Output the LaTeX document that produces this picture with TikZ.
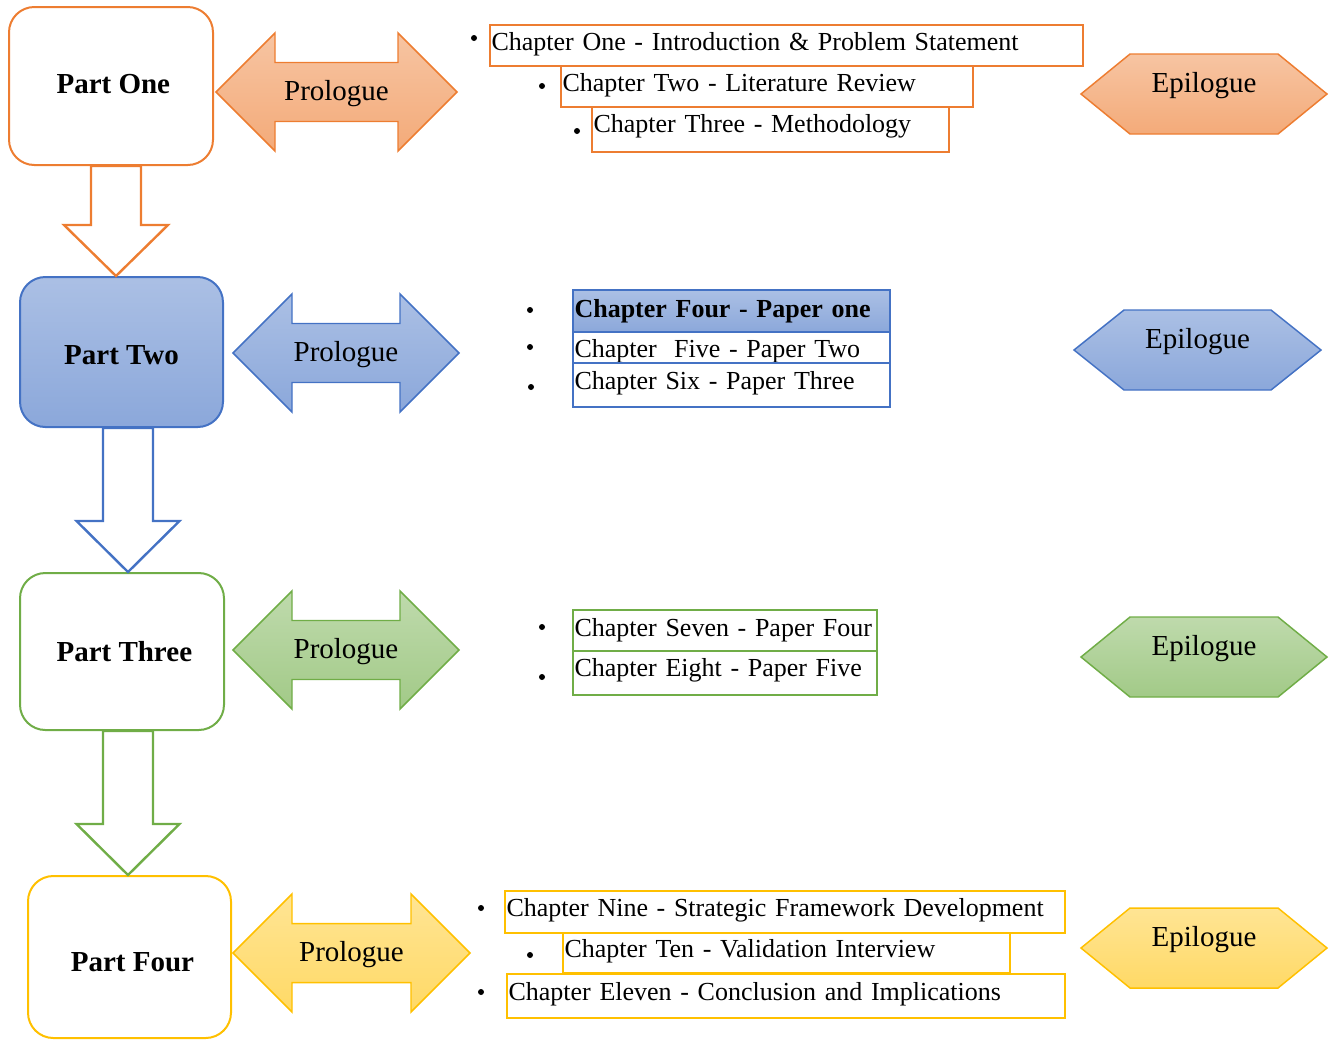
\documentclass[tikz,border=0pt]{standalone}
\usepackage{fontspec}
\setmainfont{Liberation Serif}
\usetikzlibrary{calc}

\definecolor{orangeC}{HTML}{ED7D31}
\definecolor{blueC}{HTML}{4472C4}
\definecolor{greenC}{HTML}{70AD47}
\definecolor{goldC}{HTML}{FFC000}

\newcommand\chapfont{\fontsize{19.5pt}{22pt}\selectfont}
\newcommand\labfont{\fontsize{21.75pt}{24pt}\selectfont}
% shift text vertically while keeping its natural height and depth
\newcommand\lift[2]{\raisebox{#1}[\height][\depth]{#2}}

\tikzset{
  shadeO/.style={top color=orangeC!45!white, bottom color=orangeC!65!white},
  shadeB/.style={top color=blueC!45!white, bottom color=blueC!62!white},
  shadeG/.style={top color=greenC!45!white, bottom color=greenC!65!white},
  shadeY/.style={top color=goldC!42!white, bottom color=goldC!60!white},
  part/.style={draw=#1, line width=1.5pt, rounded corners=19pt, fill=white,
    font=\bfseries\labfont, inner sep=0pt},
  chap/.style={draw=#1, line width=1.8pt, anchor=north west, inner xsep=1pt,
    inner ysep=0pt, align=left, font=\chapfont, fill=white},
  bulletdot/.style={circle, fill=black, inner sep=0pt, minimum size=4.5pt},
  blockarrow/.style={draw=#1, line width=1.8pt, fill=white, line join=miter},
  shapeline/.style={draw=#1, line width=1.1pt, line join=miter},
  lab/.style={font=\labfont, inner sep=0pt}
}

% double-headed block arrow with a label: name, left x, centre y, right x, colour, shading
\newcommand\prologuearrow[6]{%
  \draw[shapeline=#5, #6]
    (#2,#3) -- ({#2+59},{#3-59}) -- ({#2+59},{#3-29.5}) -- ({#4-59},{#3-29.5})
    -- ({#4-59},{#3-59}) -- (#4,#3) -- ({#4-59},{#3+59}) -- ({#4-59},{#3+29.5})
    -- ({#2+59},{#3+29.5}) -- ({#2+59},{#3+59}) -- cycle;
  \node[lab] (#1) at ({(#2+#4)/2},{#3+2}) {Prologue};}

% hexagon with a label: name, left x, centre y, right x, inset, colour, shading
\newcommand\epiloguehex[7]{%
  \draw[shapeline=#6, #7]
    (#2,#3) -- ({#2+#5},{#3-40}) -- ({#4-#5},{#3-40}) -- (#4,#3)
    -- ({#4-#5},{#3+40}) -- ({#2+#5},{#3+40}) -- cycle;
  \node[lab] (#1) at ({(#2+#4)/2},{#3-8}) {Epilogue};}

% hollow down arrow from one part to the next along the vertical through (#3)
\newcommand\partarrow[6]{%
  \draw[blockarrow=#4]
    ($(#1.south -| #3)+(-25,0)$) -- ($(#2.north -| #3)+(-25,{-#5})$)
    -- ($(#2.north -| #3)+({-#6},{-#5})$) -- (#2.north -| #3)
    -- ($(#2.north -| #3)+(#6,{-#5})$) -- ($(#2.north -| #3)+(25,{-#5})$)
    -- ($(#1.south -| #3)+(25,0)$) -- cycle;}

\begin{document}
\begin{tikzpicture}[x=0.75pt, y=-0.75pt]
\useasboundingbox (0,0) rectangle (1331,1040);

% parts
\node[part=orangeC, minimum width=153pt, minimum height=118.5pt] (p1) at (111,86) {\hspace*{3.5pt}\lift{1.5pt}{Part One}};
\node[part=blueC, shadeB, minimum width=152.25pt, minimum height=112.5pt] (p2) at (121.5,352) {\lift{-2.25pt}{Part Two}};
\node[part=greenC, minimum width=153pt, minimum height=117.75pt] (p3) at (122,651.5) {\hspace*{3.5pt}Part Three};
\node[part=goldC, minimum width=152.25pt, minimum height=121.5pt] (p4) at (129.5,957) {\hspace*{4.5pt}\lift{-3.75pt}{Part Four}};

% arrows between the parts
\coordinate (ax1) at (116,0);
\coordinate (ax2) at (128,0);
\partarrow{p1}{p2}{ax1}{orangeC}{51}{52}
\partarrow{p2}{p3}{ax2}{blueC}{51}{51.5}
\partarrow{p3}{p4}{ax2}{greenC}{51}{51.5}

% prologues
\prologuearrow{pr1}{216}{92}{457}{orangeC}{shadeO}
\prologuearrow{pr2}{233}{353}{459}{blueC}{shadeB}
\prologuearrow{pr3}{233}{650}{459}{greenC}{shadeG}
\prologuearrow{pr4}{233}{953}{470}{goldC}{shadeY}

% epilogues
\epiloguehex{ep1}{1081}{94}{1327}{49}{orangeC}{shadeO}
\epiloguehex{ep2}{1074}{350}{1321}{50}{blueC}{shadeB}
\epiloguehex{ep3}{1081}{657}{1327}{49}{greenC}{shadeG}
\epiloguehex{ep4}{1081}{948}{1327}{49}{goldC}{shadeY}

% chapters of part one
\node[chap=orangeC, text width=442.75pt, minimum height=30.75pt] (c1) at (489,24) {\lift{0.75pt}{Chapter One - Introduction \& Problem Statement}};
\node[chap=orangeC, text width=307pt, minimum height=30.75pt] (c2) at (560,65) {\lift{0.75pt}{Chapter Two - Literature Review}};
\node[chap=orangeC, text width=265.75pt, minimum height=33.75pt] (c3) at (591,106) {\lift{2.25pt}{Chapter Three - Methodology}};
\node[bulletdot] (b1) at (474,38) {};
\node[bulletdot] (b2) at (542,86) {};
\node[bulletdot] (b3) at (577,131) {};

% chapters of part two
\node[chap=blueC, shadeB, text width=235.75pt, minimum height=31.5pt, font=\chapfont\bfseries] (c4) at (572,289) {Chapter Four - Paper one};
\node[chap=blueC, text width=235.75pt, minimum height=23.25pt] (c5) at (572,331) {\lift{-2.5pt}{Chapter\ \ Five - Paper Two}};
\node[chap=blueC, text width=235.75pt, minimum height=33pt] (c6) at (572,362) {\lift{1.5pt}{Chapter Six - Paper Three}};
\node[bulletdot] (b4) at (530,310) {};
\node[bulletdot] (b5) at (530,347) {};
\node[bulletdot] (b6) at (531,387) {};

% chapters of part three
\node[chap=greenC, text width=226pt, minimum height=30.75pt] (c7) at (572,609) {\mbox{Chapter Seven - Paper Four}};
\node[chap=greenC, text width=226pt, minimum height=33pt] (c8) at (572,650) {\lift{2pt}{Chapter Eight - Paper Five}};
\node[bulletdot] (b7) at (542,627) {};
\node[bulletdot] (b8) at (542,677) {};

% chapters of part four
\node[chap=goldC, text width=418pt, minimum height=31.5pt] (c9) at (504,890) {\lift{1.5pt}{Chapter Nine - Strategic Framework Development}};
\node[chap=goldC, text width=333.25pt, minimum height=30pt] (c10) at (562,932) {\lift{1.5pt}{Chapter Ten - Validation Interview}};
\node[chap=goldC, text width=416.5pt, minimum height=33pt] (c11) at (506,973) {\lift{1.5pt}{Chapter Eleven - Conclusion and Implications}};
\node[bulletdot] (b9) at (481,908) {};
\node[bulletdot] (b10) at (530,955) {};
\node[bulletdot] (b11) at (481,992) {};
\end{tikzpicture}
\end{document}
